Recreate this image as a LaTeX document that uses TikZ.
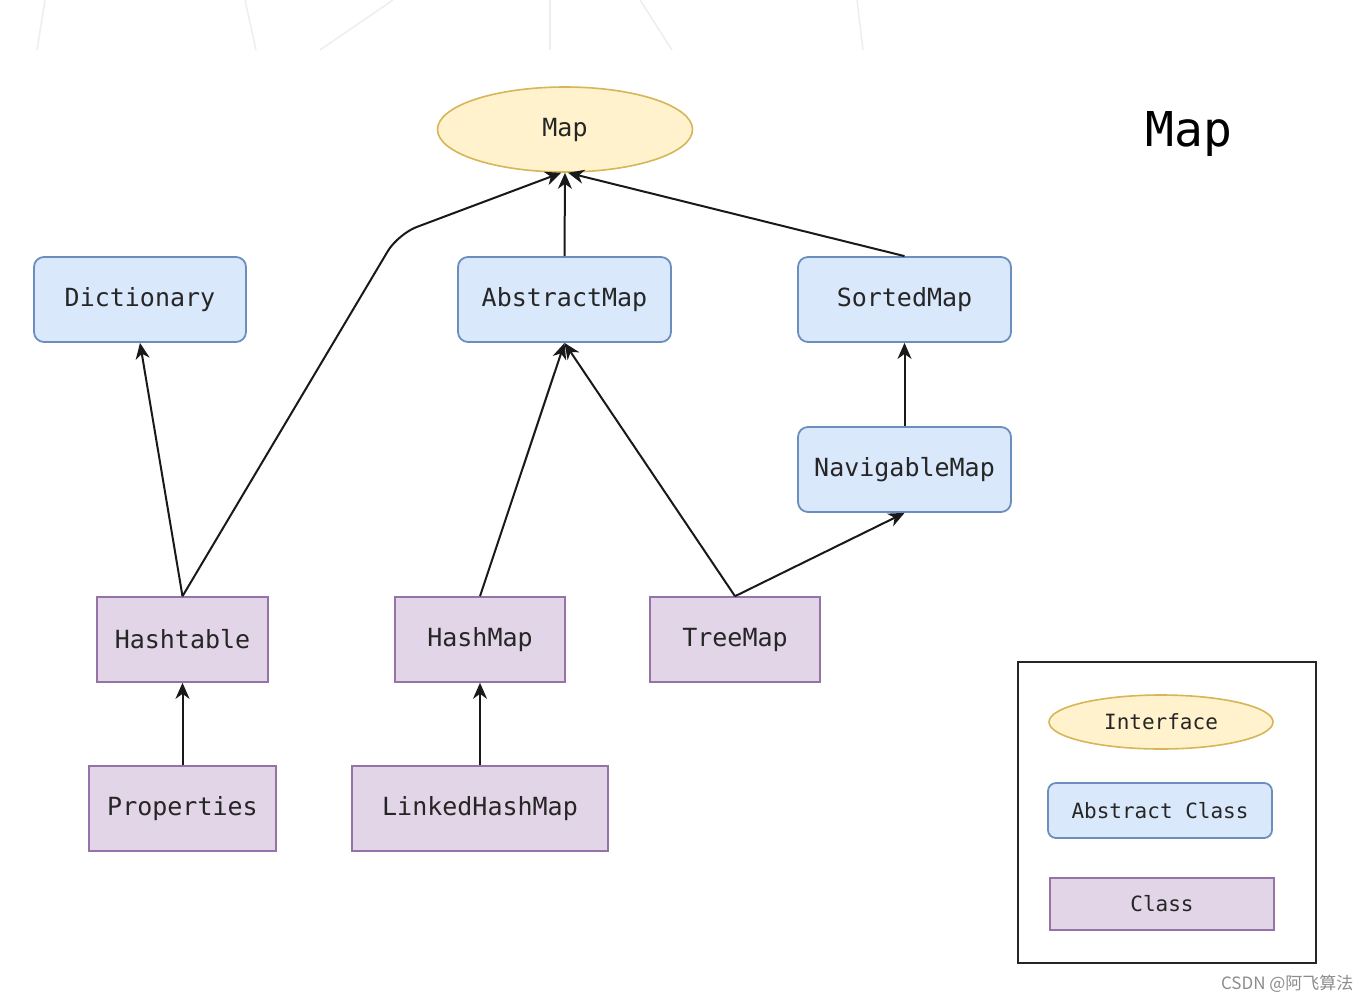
\documentclass[tikz,border=0pt]{standalone}
\usepackage{fontspec}
\setmonofont{DejaVu Sans Mono}
\newfontfamily\cjkfont{Noto Sans CJK SC}
\usetikzlibrary{arrows.meta,shapes.geometric}
\definecolor{ifill}{HTML}{FFF2CC}
\definecolor{idraw}{HTML}{D6B656}
\definecolor{afill}{HTML}{DAE8FC}
\definecolor{adraw}{HTML}{6C8EBF}
\definecolor{cfill}{HTML}{E1D5E7}
\definecolor{cdraw}{HTML}{9673A6}
\definecolor{faint}{HTML}{EEEEEE}
\tikzset{
  iface/.style={ellipse, draw=idraw, fill=ifill, line width=1.6pt, inner sep=0pt},
  absbox/.style={rectangle, rounded corners=10pt, draw=adraw, fill=afill, line width=1.8pt, inner sep=0pt},
  clsbox/.style={rectangle, draw=cdraw, fill=cfill, line width=1.6pt, inner sep=0pt},
  big/.style={font=\ttfamily\fontsize{25}{30}\selectfont, text=black!85},
  small/.style={font=\ttfamily\fontsize{21}{25}\selectfont, text=black!85},
  conn/.style={line width=2pt, black!90, -{Stealth[length=16pt,width=14pt,inset=5pt]}},
}
\begin{document}
\begin{tikzpicture}[x=1pt,y=-1pt]
\useasboundingbox[fill=white] (0,0) rectangle (1372,1002);
% faint background remnants
\begin{scope}[faint, line width=1.5pt]
\draw (45,0) -- (37,50);
\draw (245,0) -- (256,50);
\draw (320,50) -- (393,0);
\draw (550,0) -- (550,50);
\draw (640,0) -- (672,50);
\draw (857,0) -- (863,50);
\end{scope}
% nodes
\node[iface, big, minimum width=255pt, minimum height=85pt] (map) at (565,129.5) {\raisebox{3pt}{Map}};
\node[absbox, big, minimum width=212pt, minimum height=85pt] (dict) at (140,299.5) {Dictionary};
\node[absbox, big, minimum width=213pt, minimum height=85pt] (amap) at (564.5,299.5) {AbstractMap};
\node[absbox, big, minimum width=213pt, minimum height=85pt] (smap) at (904.5,299.5) {SortedMap};
\node[absbox, big, minimum width=213pt, minimum height=85pt] (nmap) at (904.5,469.5) {NavigableMap};
\node[clsbox, big, minimum width=171pt, minimum height=85pt] (ht) at (182.5,639.5) {Hashtable};
\node[clsbox, big, minimum width=170pt, minimum height=85pt] (hm) at (480,639.5) {HashMap};
\node[clsbox, big, minimum width=170pt, minimum height=85pt] (tm) at (735,639.5) {TreeMap};
\node[clsbox, big, minimum width=187pt, minimum height=85pt] (prop) at (182.5,808.5) {Properties};
\node[clsbox, big, minimum width=256pt, minimum height=85pt] (lhm) at (480,808.5) {LinkedHashMap};
% title
\node[font=\ttfamily\fontsize{48}{56}\selectfont] (title) at (1189,134) {Map};
% connectors
\coordinate (bend) at (398,234);
\draw[conn, rounded corners=20pt] (ht.north) -- (bend) -- (map.-95);
\draw[conn] (ht.north) -- (dict.south);
\draw[conn] (amap.north) -- (map.south);
\draw[conn] (smap.north) -- (map.-86);
\draw[conn] (nmap.north) -- (smap.south);
\draw[conn] (hm.north) -- (amap.south);
\draw[conn] (tm.north) -- (amap.south);
\draw[conn] (tm.north) -- (nmap.south);
\draw[conn] (prop.north) -- (ht.south);
\draw[conn] (lhm.north) -- (hm.south);
% legend
\node[draw=black!85, line width=2pt, minimum width=298pt, minimum height=301pt, inner sep=0pt] (legend) at (1167,812.5) {};
\node[iface, small, minimum width=224pt, minimum height=54pt] (li) at (1161,722) {Interface};
\node[absbox, small, rounded corners=8pt, minimum width=224pt, minimum height=55pt] (la) at (1160,810.5) {Abstract Class};
\node[clsbox, small, minimum width=224pt, minimum height=52pt] (lc) at (1162,904) {Class};
% watermark
\node[font=\cjkfont\fontsize{17}{20}\selectfont, text=black!45, anchor=east] (wm) at (1357,984) {CSDN @阿飞算法};
\end{tikzpicture}
\end{document}
